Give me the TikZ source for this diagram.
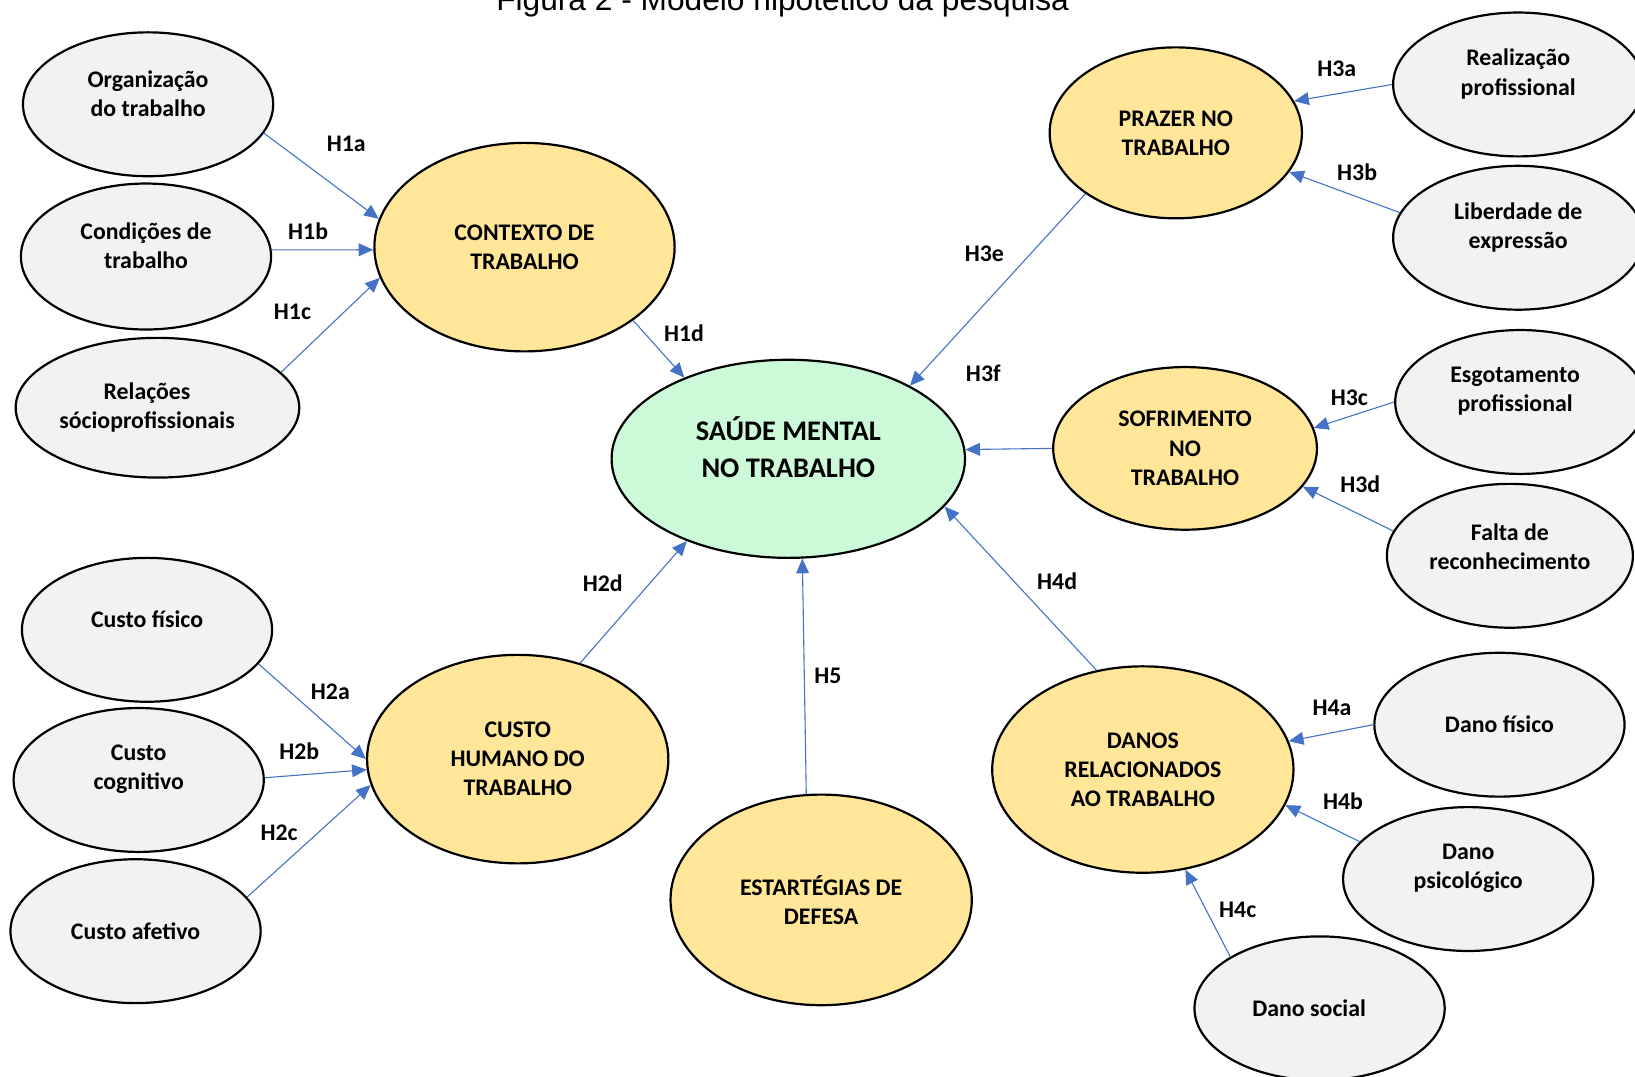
\documentclass[tikz,border=0pt]{standalone}
\usepackage{fontspec}
\setmainfont{Carlito}
\newfontfamily\arialfont{Liberation Sans}
\usetikzlibrary{shapes.geometric,arrows.meta}
\definecolor{cinzaclaro}{HTML}{F2F2F2}
\definecolor{amareloclaro}{HTML}{FFE699}
\definecolor{verdeclaro}{HTML}{CCF9D7}
\definecolor{azulseta}{HTML}{4472C4}
\tikzset{
	bolha/.style={ellipse, draw=black, line width=1.2pt, inner sep=0pt},
	indicador/.style={bolha, fill=cinzaclaro, minimum width=4.8cm, minimum height=2.76cm},
	fator/.style={bolha, fill=amareloclaro, minimum width=5.78cm, minimum height=4cm},
	central/.style={bolha, fill=verdeclaro, minimum width=6.78cm, minimum height=3.8cm},
	rotulo/.style={font=\fontsize{13pt}{15.9pt}\selectfont\bfseries, align=center, inner sep=0pt},
	hip/.style={font=\fontsize{13pt}{15.9pt}\selectfont\bfseries, inner sep=0pt},
	seta/.style={draw=azulseta, line width=0.6pt, -{Triangle[length=8pt,width=7pt]}},
	titulo/.style={font=\arialfont\fontsize{17.3pt}{21pt}\selectfont, inner sep=0pt}
}
% elipse + texto deslocado (dx,dy em px)
\newcommand{\bolha}[5]{
	\node[#1] (#2) at (#3) {};
	\node[rotulo] (#2t) at ([shift={(#4)}]#2) {#5};
}

\begin{document}
\begin{tikzpicture}[x=0.02cm, y=-0.02cm]
	\useasboundingbox (0,0) rectangle (1568,1032);
	\node[titulo, anchor=base] (tit) at (750.5,10.5) {Figura 2 - Modelo hipotético da pesquisa};
	
	\node[central] (smt) at (756,440) {};
	\node[rotulo, font=\fontsize{15.5pt}{20.5pt}\selectfont\bfseries] (smtt) at (756,429) {SAÚDE MENTAL\\NO TRABALHO};
	
	\bolha{fator, minimum width=5.76cm}{ctx}{503,237}{0,0}{CONTEXTO DE\\TRABALHO}
	\bolha{fator, minimum width=5.78cm}{chum}{496.5,728}{0,0}{CUSTO\\HUMANO DO\\TRABALHO}
	\bolha{fator, minimum height=4.04cm}{est}{787.5,863}{0,0}{ESTARTÉGIAS DE\\DEFESA}
	\bolha{fator, minimum height=3.96cm}{dan}{1096,738}{0,0}{DANOS\\RELACIONADOS\\AO TRABALHO}
	\bolha{fator, minimum width=4.84cm, minimum height=3.28cm}{praz}{1127.6,127.4}{0,0}{PRAZER NO\\TRABALHO}
	\bolha{fator, minimum width=5.06cm, minimum height=3.12cm}{sof}{1136.5,430}{0,0}{SOFRIMENTO\\NO\\TRABALHO}
	
	\bolha{indicador}{org}{142,100}{0,-10}{Organização\\do trabalho}
	\bolha{indicador, minimum height=2.8cm}{cond}{140,246}{0,-10}{Condições de\\trabalho}
	\bolha{indicador, minimum width=5.44cm, minimum height=2.68cm}{rel}{151,391}{-10,0}{Relações\\sócioprofissionais}
	\bolha{indicador}{fis}{141,604}{0,-10}{Custo físico}
	\bolha{indicador}{cog}{133,748}{0,-10}{Custo\\cognitivo}
	\bolha{indicador}{afe}{130,893}{0,0}{Custo afetivo}
	\bolha{indicador}{real}{1456,81}{0,-10}{Realização\\profissional}
	\bolha{indicador}{lib}{1456,228}{0,-10}{Liberdade de\\expressão}
	\bolha{indicador}{esg}{1458,385.5}{-5,-10}{Esgotamento\\profissional}
	\bolha{indicador, minimum width=4.72cm}{fal}{1448,533}{0,-9}{Falta de\\reconhecimento}
	\bolha{indicador}{dfis}{1438,695}{0,0}{Dano físico}
	\bolha{indicador}{dpsi}{1408,843}{0,-10}{Dano\\psicológico}
	\bolha{indicador}{dsoc}{1265.5,967}{-10,0}{Dano social}
	
	\draw[seta] (org.-14) -- (ctx.169);
	\draw[seta] (cond.3) -- (ctx.181);
	\draw[seta] (rel.16) -- (ctx.192);
	\draw[seta] (ctx.-34) -- (smt.142);
	\draw[seta] (fis.-17) -- (chum.180);
	\draw[seta] (cog.1) -- (chum.184);
	\draw[seta] (afe.17) -- (chum.190);
	\draw[seta] (chum.57) -- (smt.219);
	\draw[seta] (est.98) -- (smt.278);
	\draw[seta] (dan.115) -- (smt.343);
	\draw[seta] (dfis.180) -- (dan.11.5);
	\draw[seta] (dpsi.161) -- (dan.-14);
	\draw[seta] (dsoc.150) -- (dan.-67);
	\draw[seta] (real.180) -- (praz.15.5);
	\draw[seta] (lib.168) -- (praz.-19);
	\draw[seta] (esg.180) -- (sof.9);
	\draw[seta] (fal.168) -- (sof.-18);
	\draw[seta] (praz.214) -- (smt.31);
	\draw[seta] (sof.180) -- (smt.3);
	
	\node[hip] (h1a) at (332,138) {H1a};
	\node[hip] (h1b) at (295.5,221.6) {H1b};
	\node[hip] (h1c) at (280.5,299) {H1c};
	\node[hip] (h1d) at (656,320) {H1d};
	\node[hip] (h2a) at (316.8,663.4) {H2a};
	\node[hip] (h2b) at (287,720) {H2b};
	\node[hip] (h2c) at (267.6,798.6) {H2c};
	\node[hip] (h2d) at (578,559) {H2d};
	\node[hip] (h5) at (794,648) {H5};
	\node[hip] (h4d) at (1013.8,557.8) {H4d};
	\node[hip] (h4a) at (1277.4,678.7) {H4a};
	\node[hip] (h4b) at (1288,768) {H4b};
	\node[hip] (h4c) at (1187,872.7) {H4c};
	\node[hip] (h3a) at (1282,65.5) {H3a};
	\node[hip] (h3b) at (1301.5,165.6) {H3b};
	\node[hip] (h3c) at (1294,381.8) {H3c};
	\node[hip] (h3d) at (1304.5,464) {H3d};
	\node[hip] (h3e) at (944,243) {H3e};
	\node[hip] (h3f) at (943,358) {H3f};
\end{tikzpicture}
\end{document}
